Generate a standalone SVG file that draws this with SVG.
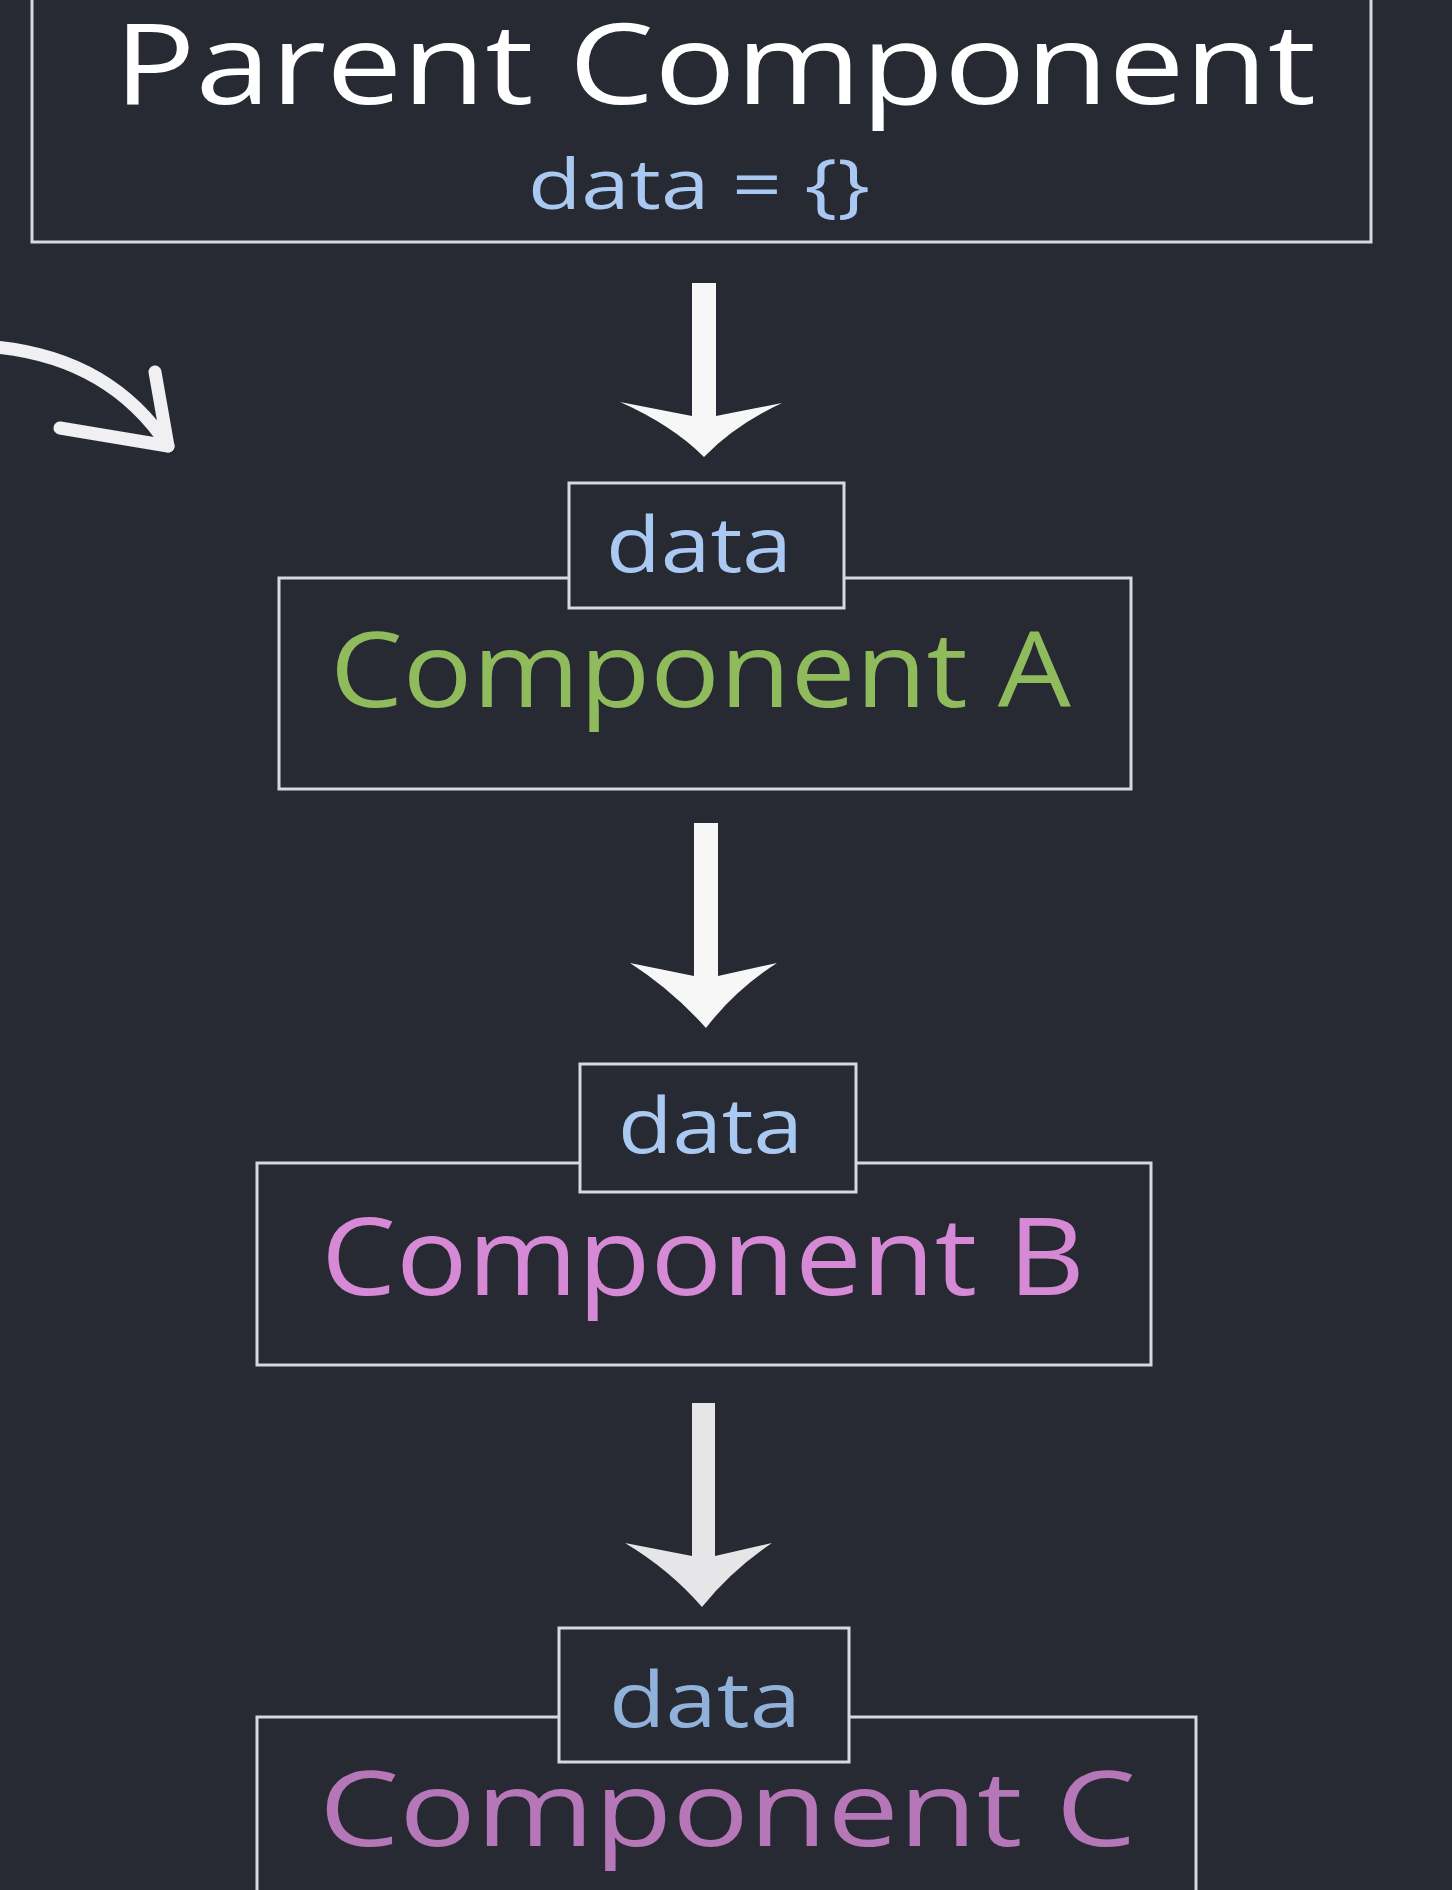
<svg xmlns="http://www.w3.org/2000/svg" width="1452" height="1890" viewBox="0 0 1452 1890">
<style>
.box{fill:#272a33;stroke:#d6d9de;stroke-width:3}
.lbl{font-family:"Open Sans","Liberation Sans",sans-serif;font-weight:400}
.data{fill:#a9c9f2}
.arr{fill:#f7f7f7}
</style>
<rect x="0" y="0" width="1452" height="1890" fill="#272a33"/>
<g id="parent">
<rect class="box" x="32" y="-10" width="1339" height="252"/>
<text class="lbl" x="114" y="104" font-size="112" fill="#ffffff" textLength="1202" lengthAdjust="spacingAndGlyphs">Parent Component</text>
<text class="lbl data" x="528" y="209" font-size="70" textLength="342" lengthAdjust="spacingAndGlyphs">data = {}</text>
</g>
<g id="componentA">
<rect class="box" x="279" y="578" width="852" height="211"/>
<text class="lbl" x="330" y="707" font-size="105" fill="#8fbb5c" textLength="741" lengthAdjust="spacingAndGlyphs">Component A</text>
<rect class="box" x="569" y="483" width="275" height="125"/>
<text class="lbl data" x="606" y="572" font-size="76" textLength="186" lengthAdjust="spacingAndGlyphs">data</text>
</g>
<g id="componentB">
<rect class="box" x="257" y="1163" width="894" height="202"/>
<text class="lbl" x="321" y="1295" font-size="108" fill="#d68ad6" textLength="764" lengthAdjust="spacingAndGlyphs">Component B</text>
<rect class="box" x="580" y="1064" width="276" height="128"/>
<text class="lbl data" x="618" y="1153" font-size="76" textLength="185" lengthAdjust="spacingAndGlyphs">data</text>
</g>
<g id="componentC">
<rect class="box" x="257" y="1717" width="939" height="200"/>
<text class="lbl" x="319" y="1846" font-size="104" fill="#b677b9" textLength="817" lengthAdjust="spacingAndGlyphs">Component C</text>
<rect class="box" x="559" y="1628" width="290" height="134"/>
<text class="lbl" x="609" y="1727" font-size="76" fill="#8fb1da" textLength="192" lengthAdjust="spacingAndGlyphs">data</text>
</g>
<g id="connectors">
<path class="arr" d="M692,283 L716,283 L716,416 L782,403 Q735,425 704,457 Q672,425 620,402 L692,416 Z"/>
<path class="arr" d="M694,823 L718,823 L718,976 L777,963 Q735,990 706,1028 Q672,990 630,963 L694,976 Z"/>
<path fill="#e6e6e8" d="M692,1403 L715,1403 L715,1556 L772,1543 Q732,1570 702,1607 Q670,1570 625,1543 L692,1556 Z"/>
<g fill="none" stroke="#f0f0f2" stroke-width="13" stroke-linecap="round" stroke-linejoin="round">
<path d="M-5,347 Q110,358 168,446"/>
<path d="M155,372 L168,446 L60,428"/>
</g>
</g>
</svg>
